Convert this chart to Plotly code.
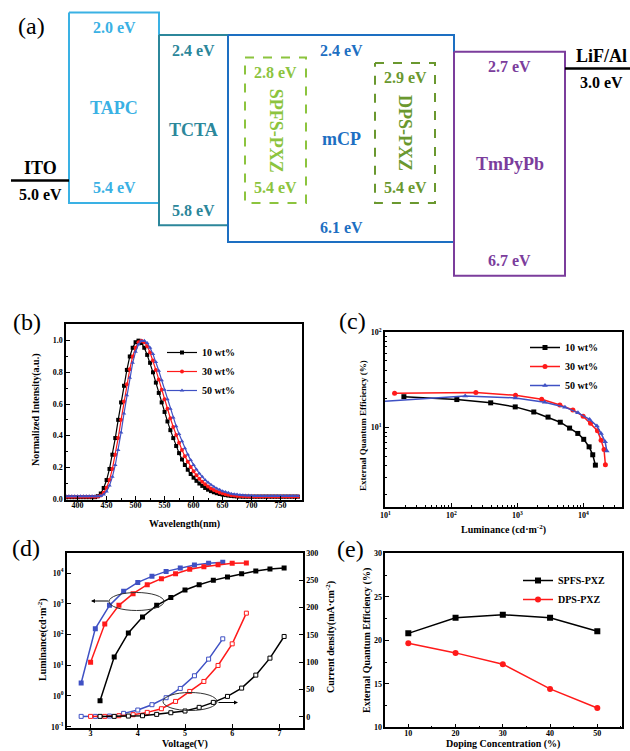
import plotly.graph_objects as go

W, H = 630, 751
SERIF = "Liberation Serif"

# ---------------- (a) energy level diagram data ----------------
layer_names = ["TAPC", "TCTA", "mCP", "TmPyPb"]
layer_lumo = [2.0, 2.4, 2.4, 2.7]
layer_homo = [5.4, 5.8, 6.1, 6.7]
emitter_names = ["SPFS-PXZ", "DPS-PXZ"]
emitter_lumo = [2.8, 2.9]
emitter_homo = [5.4, 5.4]
electrode_names = ["ITO", "LiF/Al"]
electrode_levels = [5.0, 3.0]

# ---------------- (b) PL spectra ----------------
wavelength = [380, 385, 390, 395, 400, 405, 410, 415, 420, 425,
              430, 435, 440, 445, 450, 455, 460, 465, 470, 475,
              480, 485, 490, 495, 500, 505, 510, 515, 520, 525,
              530, 535, 540, 545, 550, 555, 560, 565, 570, 575,
              580, 585, 590, 595, 600, 605, 610, 615, 620, 625,
              630, 635, 640, 645, 650, 655, 660, 665, 670, 675,
              680, 685, 690, 695, 700, 705, 710, 715, 720, 725,
              730, 735, 740, 745, 750, 755, 760, 765, 770, 775, 780]
pl_10 = [0.012, 0.012, 0.012, 0.012, 0.012, 0.012, 0.012, 0.012, 0.012, 0.012,
         0.012, 0.018, 0.035, 0.07, 0.12, 0.19, 0.28, 0.385, 0.5, 0.61,
         0.715, 0.815, 0.9, 0.955, 0.99, 1.0, 0.985, 0.955, 0.91, 0.86,
         0.80, 0.735, 0.67, 0.61, 0.55, 0.49, 0.435, 0.385, 0.335, 0.29,
         0.25, 0.215, 0.185, 0.158, 0.135, 0.115, 0.098, 0.083, 0.07, 0.059,
         0.05, 0.043, 0.037, 0.032, 0.028, 0.025, 0.022, 0.02, 0.018, 0.017,
         0.016, 0.015, 0.015, 0.015, 0.015, 0.015, 0.015, 0.015, 0.015, 0.015,
         0.015, 0.015, 0.015, 0.015, 0.015, 0.015, 0.015, 0.015, 0.015, 0.015, 0.015]
pl_30 = [0.015, 0.015, 0.015, 0.015, 0.015, 0.015, 0.015, 0.015, 0.015, 0.015,
         0.015, 0.016, 0.022, 0.04, 0.072, 0.12, 0.19, 0.28, 0.385, 0.5,
         0.615, 0.725, 0.82, 0.9, 0.955, 0.99, 1.0, 0.99, 0.965, 0.925,
         0.875, 0.815, 0.755, 0.69, 0.63, 0.57, 0.51, 0.455, 0.405, 0.355,
         0.31, 0.27, 0.235, 0.203, 0.175, 0.15, 0.128, 0.109, 0.093, 0.079,
         0.067, 0.057, 0.049, 0.042, 0.036, 0.031, 0.027, 0.024, 0.022, 0.02,
         0.019, 0.018, 0.017, 0.016, 0.016, 0.016, 0.016, 0.016, 0.016, 0.016,
         0.016, 0.016, 0.016, 0.016, 0.016, 0.016, 0.016, 0.016, 0.016, 0.016, 0.016]
pl_50 = [0.018, 0.018, 0.018, 0.018, 0.018, 0.018, 0.018, 0.018, 0.018, 0.018,
         0.018, 0.018, 0.02, 0.028, 0.048, 0.085, 0.14, 0.215, 0.31, 0.42,
         0.54, 0.655, 0.765, 0.86, 0.93, 0.975, 0.998, 1.0, 0.985, 0.955,
         0.915, 0.865, 0.81, 0.75, 0.69, 0.63, 0.57, 0.515, 0.46, 0.41,
         0.365, 0.32, 0.282, 0.247, 0.215, 0.187, 0.162, 0.14, 0.12, 0.104,
         0.09, 0.078, 0.067, 0.058, 0.05, 0.044, 0.039, 0.034, 0.031, 0.028,
         0.026, 0.024, 0.023, 0.022, 0.021, 0.02, 0.02, 0.02, 0.02, 0.02,
         0.02, 0.02, 0.02, 0.02, 0.02, 0.02, 0.02, 0.02, 0.02, 0.02, 0.02]

# ---------------- (c) EQE vs luminance ----------------
lum_c_10 = [19.1, 121, 394, 927, 1770, 2910, 4460, 6170, 8220, 10100, 12190, 13830, 15170]
eqe_c_10 = [21.1, 19.7, 18.2, 16.5, 14.6, 12.9, 11.4, 9.9, 8.7, 7.55, 6.3, 5.2, 4.05]
lum_c_30 = [13.8, 235, 937, 2330, 4400, 6920, 9900, 12800, 16300, 18500, 20500, 21500]
eqe_c_30 = [22.9, 23.4, 21.8, 19.8, 17.3, 15.3, 13.2, 11.1, 9.3, 7.4, 5.9, 4.1]
lum_c_50 = [9, 162, 937, 2590, 5250, 8260, 12400, 16000, 18500, 21300, 22600]
eqe_c_50 = [18.8, 21.5, 20.5, 18.5, 16.4, 14.3, 12.2, 10.4, 8.7, 7.1, 5.7]

# ---------------- (d) L-J-V ----------------
volt_10 = [3.2, 3.5, 3.8, 4.1, 4.4, 4.7, 5.0, 5.3, 5.6, 5.9, 6.2, 6.5, 6.8, 7.1]
lum_d_10 = [0.70, 18.5, 112, 370, 887, 1610, 2800, 4170, 5770, 7410, 9510, 11600, 13500, 14500]
cur_d_10 = [0.6, 0.6, 1.2, 1.8, 4.3, 7.3, 10.4, 17.1, 26.2, 37.2, 52.4, 76.2, 107.3, 147]
volt_30 = [3.0, 3.3, 3.6, 3.9, 4.2, 4.5, 4.8, 5.1, 5.4, 5.7, 6.0, 6.3]
lum_d_30 = [12.4, 219, 887, 2130, 4170, 6550, 9500, 13200, 16100, 18700, 20700, 21200]
cur_d_30 = [0.6, 0.6, 1.8, 3.7, 7.9, 14.6, 28, 46.3, 64.6, 93.9, 133.5, 189.7]
volt_50 = [2.8, 3.1, 3.4, 3.7, 4.0, 4.3, 4.6, 4.9, 5.2, 5.5, 5.8]
lum_d_50 = [2.64, 155, 887, 2530, 4960, 7800, 11300, 14500, 18200, 20700, 22200]
cur_d_50 = [0.6, 0.6, 1.2, 6.1, 12.2, 22, 34.8, 51.8, 75, 105.5, 142.7]

# ---------------- (e) EQE vs doping ----------------
doping = [10, 20, 30, 40, 50]
eqe_spfs = [20.8, 22.6, 22.95, 22.6, 21.05]
eqe_dps = [19.65, 18.55, 17.25, 14.4, 12.2]

# ---------------- styling / layout helpers ----------------
layer_cols = [(69, 159), (159, 228), (228, 454), (454, 565)]
layer_colors = ["#3AB1E4", "#2C879B", "#1D6FC2", "#7B3D9C"]
emitter_cols = [(245, 306), (375, 435)]
emitter_colors = ["#8CC43E", "#6A982F"]
electrode_cols = [(11, 69), (565, 630)]
electrode_label_x = [40, 601]

BLACK, RED, BLUE = "#000000", "#FF1A1A", "#3F51C4"


def fx(p):
    return p / W


def fy(p):
    return 1 - p / H


def bfont(size, color="black"):
    return dict(family=SERIF, size=size, color=color, weight="bold")


fig = go.Figure()
ann = []
shapes = []

# ---- (a) ----
for name, lumo, homo, (x0, x1), col in zip(layer_names, layer_lumo, layer_homo, layer_cols, layer_colors):
    fig.add_trace(go.Scatter(x=[x0, x1, x1, x0, x0], y=[lumo, lumo, homo, homo, lumo],
                             mode="lines", line=dict(color=col, width=2),
                             xaxis="x", yaxis="y", showlegend=False, hoverinfo="skip"))
    xc = (x0 + x1) / 2
    ann.append(dict(x=xc, y=lumo, xref="x", yref="y", text=f"{lumo:.1f} eV", yshift=-15,
                    showarrow=False, font=bfont(16, col)))
    ann.append(dict(x=xc, y=homo, xref="x", yref="y", text=f"{homo:.1f} eV", yshift=15,
                    showarrow=False, font=bfont(16, col)))
    ann.append(dict(x=xc, y=(lumo + homo) / 2, xref="x", yref="y", text=name,
                    showarrow=False, font=bfont(18, col)))

for name, lumo, homo, (x0, x1), col in zip(emitter_names, emitter_lumo, emitter_homo, emitter_cols, emitter_colors):
    fig.add_trace(go.Scatter(x=[x0, x1, x1, x0, x0], y=[lumo, lumo, homo, homo, lumo],
                             mode="lines", line=dict(color=col, width=2, dash="dash"),
                             xaxis="x", yaxis="y", showlegend=False, hoverinfo="skip"))
    xc = (x0 + x1) / 2
    ann.append(dict(x=xc, y=lumo, xref="x", yref="y", text=f"{lumo:.1f} eV", yshift=-15,
                    showarrow=False, font=bfont(16, col)))
    ann.append(dict(x=xc, y=homo, xref="x", yref="y", text=f"{homo:.1f} eV", yshift=15,
                    showarrow=False, font=bfont(16, col)))
    ann.append(dict(x=xc, y=(lumo + homo) / 2, xref="x", yref="y", text=name, textangle=90,
                    showarrow=False, font=bfont(18, col)))

for name, lev, (x0, x1), lx in zip(electrode_names, electrode_levels, electrode_cols, electrode_label_x):
    fig.add_trace(go.Scatter(x=[x0, x1], y=[lev, lev], mode="lines",
                             line=dict(color="black", width=2.5),
                             xaxis="x", yaxis="y", showlegend=False, hoverinfo="skip"))
    ann.append(dict(x=lx, y=lev, xref="x", yref="y", text=name, yshift=13, showarrow=False,
                    font=bfont(18)))
    ann.append(dict(x=lx, y=lev, xref="x", yref="y", text=f"{lev:.1f} eV", yshift=-14, showarrow=False,
                    font=bfont(16)))

# ---- (b) ----
for vals, nm, col, sym in [(pl_10, "10 wt%", BLACK, "square"),
                           (pl_30, "30 wt%", RED, "circle"),
                           (pl_50, "50 wt%", BLUE, "triangle-up")]:
    fig.add_trace(go.Scatter(x=wavelength, y=vals, name=nm, mode="lines+markers",
                             line=dict(color=col, width=1.2),
                             marker=dict(symbol=sym, size=4, color=col),
                             xaxis="x2", yaxis="y2", legend="legend"))

# ---- (c) ----
for xs, ys, nm, col, sym in [(lum_c_10, eqe_c_10, "10 wt%", BLACK, "square"),
                             (lum_c_30, eqe_c_30, "30 wt%", RED, "circle"),
                             (lum_c_50, eqe_c_50, "50 wt%", BLUE, "triangle-up")]:
    fig.add_trace(go.Scatter(x=xs, y=ys, name=nm, mode="lines+markers",
                             line=dict(color=col, width=1.5),
                             marker=dict(symbol=sym, size=5, color=col),
                             xaxis="x3", yaxis="y3", legend="legend2"))

# ---- (d) ----
for xs, ls, js, col in [(volt_50, lum_d_50, cur_d_50, BLUE),
                        (volt_30, lum_d_30, cur_d_30, RED),
                        (volt_10, lum_d_10, cur_d_10, BLACK)]:
    fig.add_trace(go.Scatter(x=xs, y=ls, mode="lines+markers", showlegend=False,
                             line=dict(color=col, width=1.5),
                             marker=dict(symbol="square", size=5, color=col),
                             xaxis="x4", yaxis="y4"))
    fig.add_trace(go.Scatter(x=xs, y=js, mode="lines+markers", showlegend=False,
                             line=dict(color=col, width=1.5),
                             marker=dict(symbol="square", size=4, color="white",
                                         line=dict(color=col, width=1)),
                             xaxis="x4", yaxis="y5"))

# ---- (e) ----
fig.add_trace(go.Scatter(x=doping, y=eqe_spfs, name="SPFS-PXZ", mode="lines+markers",
                         line=dict(color=BLACK, width=1.5),
                         marker=dict(symbol="square", size=6, color=BLACK),
                         xaxis="x5", yaxis="y6", legend="legend3"))
fig.add_trace(go.Scatter(x=doping, y=eqe_dps, name="DPS-PXZ", mode="lines+markers",
                         line=dict(color=RED, width=1.5),
                         marker=dict(symbol="circle", size=6, color=RED),
                         xaxis="x5", yaxis="y6", legend="legend3"))

# ---- axes ----
TICKF = bfont(8)


def ax(domain, anchor, **kw):
    d = dict(domain=domain, anchor=anchor, showline=True, linecolor="black", linewidth=1.5,
             mirror=True, ticks="inside", ticklen=4, tickwidth=1, tickcolor="black",
             showgrid=False, zeroline=False, tickfont=TICKF, automargin=False)
    d.update(kw)
    return d


sup = lambda e: f"10<sup>{e}</sup>"
minor_c_x = [m * 10 ** k for k in range(1, 5) for m in range(2, 10)]
minor_c_y = [m * 10 ** k for k in range(0, 2) for m in range(2, 10)]

layout = dict(
    width=W, height=H, margin=dict(l=0, r=0, t=0, b=0),
    paper_bgcolor="white", plot_bgcolor="white",
    xaxis=dict(domain=[0, 1], range=[0, W], visible=False, anchor="y"),
    yaxis=dict(domain=[fy(300), 1], range=[7.135, 1.7745], visible=False, anchor="x"),
    xaxis2=ax([fx(66), fx(302)], "y2",
              range=[380, 787], tick0=400, dtick=50, ticklabelstandoff=-3,
              minor=dict(ticks="inside", ticklen=2, dtick=25, tick0=0, tickcolor="black")),
    yaxis2=ax([fy(500), fy(324)], "x2",
              range=[-0.006, 1.105], tick0=0, dtick=0.2, tickformat=".1f",
              minor=dict(ticks="inside", ticklen=2, dtick=0.1, tick0=0, tickcolor="black")),
    xaxis3=ax([fx(385), fx(622)], "y3",
              type="log", range=[0.995, 4.584],
              tickmode="array", tickvals=[10, 100, 1000, 10000],
              ticktext=[sup(1), sup(2), sup(3), sup(4)],
              minor=dict(ticks="inside", ticklen=2, tickmode="array", tickvals=minor_c_x, tickcolor="black")),
    yaxis3=ax([fy(507), fy(332)], "x3",
              type="log", range=[0.169, 2.002],
              tickmode="array", tickvals=[10, 100], ticktext=[sup(1), sup(2)],
              minor=dict(ticks="inside", ticklen=2, tickmode="array", tickvals=minor_c_y, tickcolor="black")),
    xaxis4=ax([fx(67), fx(303)], "y4",
              range=[2.5, 7.5], tick0=0, dtick=1, ticklabelstandoff=-3),
    yaxis4=ax([fy(728), fy(552.7)], "x4",
              type="log", range=[-1.042, 4.661], mirror=False,
              tickmode="array", tickvals=[0.1, 1, 10, 100, 1000, 10000],
              ticktext=[sup(-1), sup(0), sup(1), sup(2), sup(3), sup(4)]),
    yaxis5=ax([fy(728), fy(552.7)], "x4",
              overlaying="y4", side="right", range=[-20.7, 300.5], tick0=0, dtick=50, mirror=False),
    xaxis5=ax([fx(385.3), fx(622.3)], "y6",
              range=[5.13, 55.29], tick0=0, dtick=10, ticklabelstandoff=-3,
              minor=dict(ticks="inside", ticklen=2, dtick=5, tick0=0, tickcolor="black")),
    yaxis6=ax([fy(727.3), fy(553.3)], "x5",
              range=[9.98, 30.02], tick0=0, dtick=5,
              minor=dict(ticks="inside", ticklen=2, dtick=2.5, tick0=0, tickcolor="black")),
    legend=dict(x=fx(162), y=fy(338), xanchor="left", yanchor="top", bgcolor="rgba(0,0,0,0)",
                font=bfont(10), itemwidth=30, tracegroupgap=0),
    legend2=dict(x=fx(525), y=fy(333), xanchor="left", yanchor="top", bgcolor="rgba(0,0,0,0)",
                 font=bfont(10), itemwidth=30, tracegroupgap=0),
    legend3=dict(x=fx(518), y=fy(566), xanchor="left", yanchor="top", bgcolor="rgba(0,0,0,0)",
                 font=bfont(10), itemwidth=30, tracegroupgap=0),
)

# axis titles (placed as paper annotations)
axis_titles = [
    ("Wavelength(nm)", 184, 524, 0, 10),
    ("Normalized Intensity(a.u.)", 36, 410, -90, 10),
    ("Luminance (cd·m<sup>-2</sup>)", 503, 529, 0, 10),
    ("External Quantum Efficiency (%)", 363, 425, -90, 9),
    ("Voltage(V)", 185, 744, 0, 10),
    ("Luminance(cd·m<sup>-2</sup>)", 42, 640, -90, 10),
    ("Current density(mA·cm<sup>-2</sup>)", 330, 637, -90, 10),
    ("Doping Concentration (%)", 503, 744, 0, 10),
    ("External Quantum Efficiency (%)", 367, 641, -90, 10),
]
for txt, cx, cy, ang, sz in axis_titles:
    ann.append(dict(x=fx(cx), y=fy(cy), xref="paper", yref="paper", text=txt, textangle=ang,
                    showarrow=False, xanchor="center", yanchor="middle", font=bfont(sz)))

# panel letters
for lab, cx, cy in [("(a)", 31, 26), ("(b)", 27, 322), ("(c)", 352, 321), ("(d)", 26, 548), ("(e)", 350, 549)]:
    ann.append(dict(x=fx(cx), y=fy(cy), xref="paper", yref="paper", text=lab, showarrow=False,
                    xanchor="center", yanchor="middle",
                    font=dict(family=SERIF, size=24, color="black")))

# ellipses and arrows in (d)
for cx, cy, rx, ry in [(136.5, 601.5, 27.5, 9), (190, 701.5, 27, 9)]:
    shapes.append(dict(type="circle", xref="paper", yref="paper",
                       x0=fx(cx - rx), x1=fx(cx + rx), y0=fy(cy + ry), y1=fy(cy - ry),
                       line=dict(color="#333333", width=1)))
ann.append(dict(x=fx(91), y=fy(601), xref="paper", yref="paper", ax=19, ay=0, text="",
                showarrow=True, arrowhead=2, arrowsize=0.8, arrowwidth=1, arrowcolor="black"))
ann.append(dict(x=fx(238), y=fy(702.5), xref="paper", yref="paper", ax=-21, ay=0, text="",
                showarrow=True, arrowhead=2, arrowsize=0.8, arrowwidth=1, arrowcolor="black"))

layout["annotations"] = ann
layout["shapes"] = shapes
fig.update_layout(**layout)
fig.write_html("out.html", config={"displayModeBar": False},
               post_script="document.body.style.margin='0';document.body.style.overflow='hidden';")
